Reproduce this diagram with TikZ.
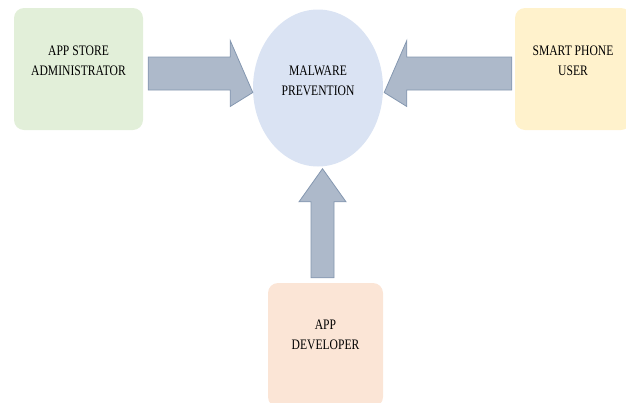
\documentclass[tikz,border=0pt]{standalone}
\usepackage{fontspec}
\setmainfont{Liberation Serif}
\usepackage{graphicx}
\usetikzlibrary{shapes}
\usetikzlibrary{calc}

\definecolor{adminfill}{HTML}{E2EFD9}
\definecolor{userfill}{HTML}{FFF2CC}
\definecolor{devfill}{HTML}{FBE5D6}
\definecolor{malfill}{HTML}{DAE3F3}
\definecolor{arrowfill}{HTML}{ADB9CA}
\definecolor{arrowedge}{HTML}{8497B0}

% narrow caps text, raised a little in its shape
\newcommand{\squeeze}[2][0pt]{\raisebox{#1}[\height][\depth]{\scalebox{0.8}[1]{\begin{tabular}{@{}c@{}}#2\end{tabular}}}}

\begin{document}
\begin{tikzpicture}[x=1pt, y=-1pt,
    font=\fontsize{14.5}{20}\selectfont,
    actor/.style={rectangle, rounded corners=10pt, inner sep=0pt},
    fat/.style={fill=arrowfill, draw=arrowedge, line width=0.8pt, line join=miter}]

\useasboundingbox (0,0) rectangle (626,402);

\node[actor, fill=adminfill, minimum width=129pt, minimum height=122pt] (admin) at (78.5,69) {\squeeze[8pt]{APP STORE\\ADMINISTRATOR}};
\node[actor, fill=userfill, minimum width=116pt, minimum height=122pt] (user) at (573,69) {\squeeze[8pt]{SMART PHONE\\USER}};
\node[actor, fill=devfill, minimum width=115pt, minimum height=124pt] (dev) at (325.5,345) {\squeeze[10pt]{APP\\DEVELOPER}};
\node[ellipse, fill=malfill, inner sep=0pt, minimum width=130pt, minimum height=157pt] (mal) at (318,88) {\squeeze[7pt]{MALWARE\\PREVENTION}};

\def \shaft{16.5}
\def \head{16.5}

% admin -> mal
\draw[fat] ($(admin.east)+(5,4.5)$) ++(0,-\shaft) -- ++(82,0) -- ++(0,-\head)
    -- ($(mal.west)+(0,4.5)$) -- ($(admin.east)+(87,4.5+\shaft+\head)$) -- ++(0,-\head) -- ++(-82,0) -- cycle;

% user -> mal
\draw[fat] ($(user.west)+(-3,4.5)$) ++(0,-\shaft) -- ++(-105,0) -- ++(0,-\head)
    -- ($(mal.east)+(1,4.5)$) -- ($(user.west)+(-108,4.5+\shaft+\head)$) -- ++(0,-\head) -- ++(105,0) -- cycle;

% dev -> mal
\draw[fat] ($(dev.north)+(-14.5,-5)$) -- ++(0,-76) -- ++(-12,0)
    -- ($(mal.south)+(4.5,2)$) -- ($(dev.north)+(20.5,-81)$) -- ++(-12,0) -- ++(0,76) -- cycle;

\end{tikzpicture}
\end{document}
